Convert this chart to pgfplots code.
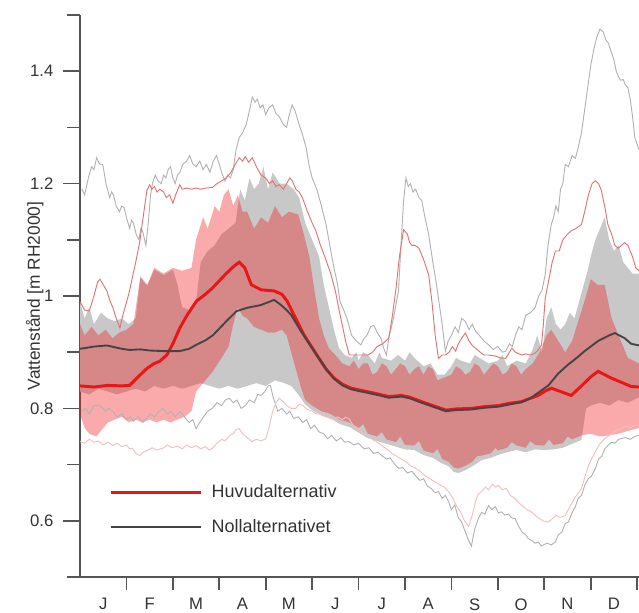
\documentclass[border=0pt]{standalone}
\usepackage{fontspec}
\setmainfont{Liberation Sans}
\usepackage{pgfplots}
\pgfplotsset{compat=1.18}
\usepgfplotslibrary{fillbetween}
\definecolor{bandgray}{RGB}{200,200,200}
\definecolor{bandred}{RGB}{240,20,20}
\definecolor{medred}{RGB}{232,22,22}
\definecolor{meddark}{RGB}{68,68,68}
\definecolor{thingray}{RGB}{178,178,178}
\definecolor{thinred}{RGB}{226,115,115}
\definecolor{thinpink}{RGB}{244,190,190}
\definecolor{axisgray}{RGB}{85,85,85}
\begin{document}
\begin{tikzpicture}
\begin{axis}[
  scale only axis, width=419.25pt, height=421.5pt,
  xmin=0, xmax=12.04, ymin=0.5, ymax=1.5,
  axis x line*=bottom, axis y line*=left,
  axis line style={line width=1.3pt, color=axisgray},
  tick align=outside,
  major tick length=12.5pt, minor tick length=9.5pt,
  every tick/.style={line width=1.2pt, color=axisgray},
  xtick={0.5,1.5,...,11.5},
  xticklabels={J,F,M,A,M,J,J,A,S,O,N,D},
  major x tick style={draw=none},
  minor xtick={1,...,12},
  ytick={0.6,0.8,1,1.2,1.4},
  minor ytick={0.5,0.7,0.9,1.1,1.3,1.5},
  /pgf/number format/assume math mode=true,
  tick label style={font=\fontsize{12.5}{14}\selectfont, color=black!80},
  yticklabel style={xshift=-4pt},
  ylabel={Vattenstånd [m RH2000]},
  every axis y label/.style={at={(axis description cs:-0.081,0.5)}, rotate=90, anchor=center, font=\fontsize{13}{15}\selectfont, color=black!80},
  legend style={draw=none, fill=none, inner sep=0pt, at={(axis cs:0.64,0.62)}, anchor=west,
    font=\fontsize{13.5}{15}\selectfont, row sep=15pt, column sep=0pt,
    nodes={inner sep=0pt, text=black!80}},
  legend cell align=left,
  legend image code/.code={\draw[#1] (0pt,0pt) -- (67pt,0pt); \path (74pt,0pt);},
]
% ---- band boundaries ----
\addplot[name path=ghi, draw=none, forget plot] coordinates {
(0,0.99)(0.1,0.96)(0.2,0.98)(0.3,0.95)(0.45,0.97)(0.6,0.96)(0.75,0.955)(0.9,0.96)(1.05,0.95)(1.2,0.96)(1.3,1.032)(1.45,1.018)(1.6,1.047)(1.8,1.037)(2.0,1.047)(2.1,1.02)(2.2,0.98)(2.35,0.975)(2.5,0.99)(2.6,1.06)(2.75,1.08)(2.9,1.09)(3.05,1.11)(3.2,1.12)(3.35,1.13)(3.45,1.19)(3.55,1.17)(3.65,1.21)(3.75,1.19)(3.85,1.2)(3.95,1.23)(4.05,1.19)(4.15,1.22)(4.3,1.2)(4.45,1.2)(4.6,1.19)(4.72,1.175)(4.85,1.13)(5.0,1.1)(5.15,1.07)(5.25,1.02)(5.36,0.98)(5.47,0.94)(5.58,0.907)(5.7,0.895)(5.85,0.89)(5.95,0.9)(6.0,0.885)(6.1,0.9)(6.2,0.895)(6.35,0.88)(6.45,0.9)(6.5,0.89)(6.7,0.885)(6.85,0.895)(7.0,0.885)(7.1,0.9)(7.2,0.89)(7.4,0.875)(7.55,0.88)(7.7,0.86)(7.85,0.86)(8.0,0.875)(8.1,0.89)(8.2,0.885)(8.4,0.88)(8.5,0.895)(8.6,0.89)(8.8,0.88)(9.0,0.885)(9.1,0.895)(9.2,0.875)(9.4,0.885)(9.6,0.88)(9.75,0.905)(9.85,0.93)(9.95,0.9)(10.05,0.96)(10.15,0.98)(10.25,0.95)(10.35,0.94)(10.45,0.95)(10.55,0.97)(10.65,0.96)(10.75,0.99)(10.85,1.02)(10.95,1.05)(11.0,1.07)(11.1,1.1)(11.2,1.12)(11.3,1.14)(11.4,1.1)(11.5,1.08)(11.6,1.09)(11.7,1.06)(11.8,1.05)(11.9,1.04)(12.04,1.04)};
\addplot[name path=glo, draw=none, forget plot] coordinates {
(0,0.83)(0.2,0.825)(0.4,0.835)(0.6,0.83)(0.8,0.825)(1.0,0.83)(1.2,0.835)(1.4,0.83)(1.6,0.84)(1.8,0.835)(2.0,0.84)(2.2,0.835)(2.4,0.84)(2.6,0.845)(2.8,0.84)(3.0,0.835)(3.2,0.84)(3.4,0.835)(3.6,0.84)(3.8,0.845)(4.0,0.84)(4.2,0.85)(4.4,0.845)(4.55,0.84)(4.7,0.825)(4.85,0.807)(5.0,0.797)(5.2,0.787)(5.4,0.782)(5.6,0.772)(5.8,0.767)(6.0,0.757)(6.2,0.747)(6.4,0.742)(6.6,0.737)(6.8,0.732)(7.0,0.727)(7.2,0.726)(7.4,0.717)(7.6,0.712)(7.8,0.702)(7.94,0.697)(8.05,0.687)(8.15,0.685)(8.3,0.69)(8.45,0.697)(8.65,0.708)(8.85,0.712)(9.0,0.717)(9.2,0.722)(9.4,0.726)(9.6,0.722)(9.8,0.727)(10.0,0.726)(10.2,0.727)(10.4,0.73)(10.6,0.737)(10.8,0.744)(10.9,0.80)(11.0,0.805)(11.2,0.81)(11.4,0.805)(11.6,0.815)(11.8,0.81)(12.04,0.82)};
\addplot[name path=phi, draw=none, forget plot] coordinates {
(0,0.95)(0.1,0.93)(0.25,0.945)(0.4,0.93)(0.55,0.94)(0.7,0.925)(0.85,0.935)(1.0,0.94)(1.15,0.95)(1.3,1.035)(1.45,1.02)(1.6,1.05)(1.8,1.04)(2.0,1.05)(2.2,1.045)(2.4,1.05)(2.5,1.1)(2.65,1.14)(2.75,1.12)(2.9,1.16)(3.0,1.15)(3.1,1.18)(3.2,1.19)(3.3,1.16)(3.4,1.18)(3.5,1.15)(3.6,1.15)(3.75,1.12)(3.9,1.14)(4.05,1.13)(4.2,1.16)(4.35,1.14)(4.5,1.15)(4.7,1.145)(4.82,1.11)(4.94,1.07)(5.05,1.01)(5.15,0.96)(5.25,0.93)(5.36,0.907)(5.5,0.895)(5.65,0.88)(5.8,0.875)(5.9,0.885)(6.0,0.87)(6.1,0.88)(6.2,0.88)(6.3,0.86)(6.4,0.865)(6.5,0.88)(6.6,0.875)(6.7,0.86)(6.8,0.87)(6.9,0.88)(7.0,0.875)(7.1,0.86)(7.2,0.87)(7.3,0.875)(7.4,0.86)(7.5,0.875)(7.6,0.87)(7.7,0.85)(7.85,0.855)(8.0,0.86)(8.1,0.875)(8.2,0.87)(8.3,0.86)(8.4,0.865)(8.5,0.88)(8.6,0.875)(8.7,0.86)(8.8,0.87)(8.9,0.88)(9.0,0.875)(9.1,0.86)(9.2,0.865)(9.3,0.88)(9.4,0.875)(9.5,0.86)(9.6,0.87)(9.75,0.88)(9.9,0.9)(10.05,0.93)(10.15,0.94)(10.3,0.92)(10.45,0.9)(10.6,0.92)(10.75,0.96)(10.9,1.0)(11.0,1.03)(11.15,1.02)(11.3,1.02)(11.45,0.96)(11.6,0.93)(11.8,0.89)(12.04,0.88)};
\addplot[name path=plo, draw=none, forget plot] coordinates {
(0,0.79)(0.1,0.765)(0.2,0.755)(0.35,0.75)(0.5,0.765)(0.6,0.775)(0.75,0.78)(0.9,0.785)(1.05,0.775)(1.2,0.78)(1.35,0.775)(1.5,0.78)(1.65,0.775)(1.8,0.78)(1.95,0.775)(2.1,0.78)(2.25,0.785)(2.4,0.795)(2.5,0.83)(2.65,0.845)(2.86,0.866)(3.05,0.89)(3.2,0.91)(3.3,0.95)(3.4,0.98)(3.5,0.965)(3.6,0.96)(3.75,0.945)(3.9,0.94)(4.05,0.935)(4.2,0.935)(4.35,0.94)(4.45,0.93)(4.55,0.9)(4.65,0.87)(4.75,0.84)(4.85,0.815)(5.0,0.805)(5.2,0.795)(5.4,0.79)(5.6,0.78)(5.8,0.775)(6.0,0.765)(6.1,0.772)(6.2,0.755)(6.4,0.75)(6.5,0.758)(6.6,0.745)(6.8,0.74)(6.9,0.75)(7.0,0.735)(7.2,0.734)(7.3,0.742)(7.4,0.725)(7.6,0.72)(7.7,0.728)(7.8,0.71)(7.94,0.705)(8.05,0.695)(8.15,0.693)(8.3,0.698)(8.45,0.705)(8.55,0.715)(8.65,0.716)(8.85,0.72)(8.95,0.73)(9.0,0.725)(9.2,0.73)(9.3,0.74)(9.4,0.734)(9.6,0.73)(9.7,0.742)(9.8,0.735)(10.0,0.734)(10.1,0.745)(10.2,0.735)(10.4,0.738)(10.5,0.75)(10.6,0.745)(10.8,0.752)(11.0,0.755)(11.2,0.75)(11.4,0.752)(11.6,0.755)(11.8,0.76)(12.04,0.765)};
\addplot[fill=bandgray, draw=none, forget plot] fill between[of=ghi and glo];
\addplot[fill=bandred, fill opacity=0.36, draw=none, forget plot] fill between[of=phi and plo];
% ---- thin extreme lines ----
\addplot[thingray, line width=0.7pt, forget plot] coordinates {
(0.04,1.19)(0.1,1.18)(0.18,1.21)(0.25,1.23)(0.3,1.225)(0.36,1.246)(0.42,1.235)(0.49,1.234)(0.56,1.2)(0.64,1.175)(0.68,1.185)(0.72,1.18)(0.78,1.16)(0.85,1.15)(0.9,1.16)(0.95,1.157)(1.0,1.14)(1.07,1.12)(1.11,1.135)(1.15,1.13)(1.21,1.11)(1.27,1.10)(1.31,1.12)(1.35,1.115)(1.42,1.09)(1.47,1.13)(1.52,1.18)(1.56,1.20)(1.62,1.215)(1.68,1.205)(1.75,1.20)(1.8,1.215)(1.85,1.21)(1.9,1.225)(1.95,1.23)(2.0,1.21)(2.05,1.20)(2.1,1.215)(2.15,1.22)(2.22,1.235)(2.3,1.24)(2.36,1.25)(2.43,1.235)(2.5,1.23)(2.58,1.24)(2.65,1.225)(2.72,1.234)(2.8,1.22)(2.87,1.24)(2.94,1.25)(3.0,1.235)(3.05,1.22)(3.12,1.205)(3.18,1.215)(3.24,1.21)(3.3,1.225)(3.36,1.26)(3.43,1.282)(3.5,1.29)(3.58,1.305)(3.65,1.33)(3.71,1.354)(3.77,1.345)(3.82,1.35)(3.88,1.335)(3.94,1.34)(4.0,1.323)(4.07,1.335)(4.15,1.34)(4.22,1.325)(4.3,1.318)(4.38,1.305)(4.45,1.30)(4.5,1.32)(4.57,1.34)(4.63,1.33)(4.72,1.305)(4.8,1.285)(4.87,1.264)(4.94,1.23)(5.0,1.21)(5.1,1.19)(5.2,1.16)(5.3,1.127)(5.38,1.09)(5.47,1.05)(5.55,1.02)(5.6,0.99)(5.68,0.975)(5.75,0.96)(5.85,0.93)(5.95,0.92)(6.05,0.913)(6.12,0.925)(6.18,0.93)(6.26,0.945)(6.33,0.948)(6.4,0.935)(6.48,0.925)(6.55,0.905)(6.6,0.895)(6.65,0.925)(6.75,0.96)(6.86,1.009)(6.92,1.1)(6.97,1.17)(7.02,1.21)(7.07,1.195)(7.12,1.20)(7.17,1.185)(7.23,1.19)(7.3,1.175)(7.36,1.17)(7.43,1.14)(7.51,1.109)(7.6,1.06)(7.66,1.03)(7.72,0.996)(7.8,0.95)(7.87,0.902)(7.93,0.92)(8.0,0.93)(8.08,0.945)(8.15,0.935)(8.22,0.96)(8.3,0.955)(8.38,0.94)(8.45,0.95)(8.52,0.937)(8.6,0.93)(8.7,0.92)(8.8,0.913)(8.9,0.905)(9.0,0.91)(9.1,0.9)(9.17,0.902)(9.25,0.915)(9.31,0.91)(9.38,0.93)(9.45,0.945)(9.52,0.94)(9.6,0.966)(9.7,0.97)(9.8,0.979)(9.88,1.0)(9.95,1.01)(10.02,1.038)(10.08,1.09)(10.15,1.127)(10.2,1.14)(10.25,1.16)(10.3,1.15)(10.35,1.19)(10.4,1.2)(10.45,1.234)(10.52,1.23)(10.6,1.25)(10.67,1.245)(10.73,1.264)(10.8,1.29)(10.85,1.32)(10.9,1.35)(10.95,1.38)(11.0,1.41)(11.07,1.44)(11.13,1.46)(11.2,1.475)(11.27,1.47)(11.33,1.455)(11.38,1.45)(11.43,1.4375)(11.5,1.42)(11.55,1.4)(11.6,1.39)(11.64,1.384)(11.7,1.385)(11.75,1.375)(11.8,1.371)(11.85,1.35)(11.9,1.32)(11.95,1.282)(12.04,1.26)};
\addplot[thinred, line width=0.7pt, forget plot] coordinates {
(0.0,0.99)(0.1,0.975)(0.2,0.973)(0.3,1.0)(0.38,1.025)(0.43,1.03)(0.5,1.02)(0.58,1.009)(0.65,0.99)(0.71,0.979)(0.78,0.96)(0.86,0.943)(0.92,0.965)(1.01,0.991)(1.07,1.01)(1.14,1.0375)(1.2,1.06)(1.29,1.098)(1.36,1.14)(1.44,1.1875)(1.5,1.198)(1.55,1.19)(1.6,1.195)(1.66,1.185)(1.72,1.19)(1.8,1.185)(1.86,1.175)(1.93,1.18)(2.0,1.165)(2.06,1.18)(2.15,1.198)(2.2,1.19)(2.3,1.192)(2.4,1.19)(2.5,1.192)(2.6,1.19)(2.7,1.192)(2.85,1.193)(2.95,1.2)(3.05,1.205)(3.15,1.21)(3.25,1.22)(3.35,1.235)(3.43,1.246)(3.5,1.24)(3.56,1.248)(3.63,1.238)(3.71,1.246)(3.8,1.23)(3.9,1.215)(4.0,1.21)(4.08,1.2)(4.15,1.205)(4.22,1.195)(4.29,1.198)(4.38,1.19)(4.45,1.2)(4.52,1.21)(4.57,1.205)(4.65,1.19)(4.72,1.185)(4.79,1.175)(4.9,1.15)(5.0,1.13)(5.08,1.116)(5.18,1.09)(5.28,1.068)(5.4,1.04)(5.5,1.009)(5.58,0.975)(5.65,0.948)(5.72,0.92)(5.8,0.895)(6.2,0.895)(6.3,0.9)(6.4,0.91)(6.52,0.915)(6.65,0.925)(6.72,0.96)(6.8,1.009)(6.88,1.07)(6.97,1.118)(7.05,1.11)(7.1,1.095)(7.15,1.09)(7.22,1.09)(7.3,1.085)(7.4,1.065)(7.51,1.0375)(7.58,0.99)(7.65,0.93)(7.72,0.889)(7.8,0.895)(7.87,0.895)(7.95,0.9)(8.02,0.91)(8.09,0.902)(8.15,0.915)(8.22,0.925)(8.3,0.934)(8.38,0.92)(8.45,0.912)(8.52,0.907)(8.62,0.9)(8.7,0.895)(8.8,0.895)(8.95,0.893)(9.05,0.89)(9.17,0.889)(9.25,0.9)(9.3,0.907)(9.38,0.9)(9.51,0.895)(9.6,0.897)(9.7,0.895)(9.8,0.898)(9.88,0.905)(9.94,0.913)(9.98,0.95)(10.02,0.996)(10.1,1.03)(10.17,1.06)(10.24,1.08)(10.32,1.08)(10.4,1.1)(10.5,1.11)(10.58,1.116)(10.68,1.12)(10.8,1.127)(10.87,1.15)(10.95,1.18)(11.03,1.2)(11.1,1.205)(11.17,1.2)(11.23,1.1875)(11.3,1.16)(11.37,1.127)(11.45,1.11)(11.52,1.09)(11.59,1.085)(11.66,1.09)(11.73,1.095)(11.8,1.09)(11.9,1.07)(11.97,1.05)(12.04,1.045)};
\addplot[thingray, line width=0.7pt, forget plot] coordinates {
(0.04,0.795)(0.12,0.8)(0.2,0.79)(0.3,0.805)(0.43,0.805)(0.55,0.795)(0.62,0.8)(0.7,0.795)(0.8,0.785)(0.9,0.79)(1.0,0.78)(1.08,0.785)(1.15,0.777)(1.25,0.785)(1.35,0.775)(1.43,0.782)(1.52,0.79)(1.6,0.785)(1.7,0.795)(1.79,0.80)(1.88,0.79)(1.96,0.795)(2.05,0.785)(2.15,0.795)(2.25,0.785)(2.35,0.775)(2.43,0.78)(2.5,0.764)(2.58,0.775)(2.66,0.785)(2.75,0.795)(2.85,0.80)(2.95,0.81)(3.05,0.805)(3.13,0.815)(3.22,0.818)(3.3,0.81)(3.38,0.815)(3.47,0.8)(3.56,0.805)(3.65,0.815)(3.75,0.81)(3.83,0.825)(3.9,0.823)(3.98,0.83)(4.05,0.84)(4.1,0.841)(4.16,0.82)(4.26,0.795)(4.35,0.8)(4.45,0.79)(4.52,0.795)(4.6,0.782)(4.7,0.785)(4.8,0.775)(4.88,0.78)(4.97,0.764)(5.05,0.77)(5.15,0.758)(5.25,0.755)(5.33,0.746)(5.42,0.752)(5.52,0.742)(5.62,0.748)(5.7,0.74)(5.79,0.741)(5.9,0.735)(6.0,0.738)(6.12,0.728)(6.22,0.73)(6.32,0.72)(6.42,0.722)(6.5,0.716)(6.6,0.71)(6.68,0.712)(6.78,0.7)(6.87,0.693)(6.95,0.695)(7.05,0.685)(7.15,0.688)(7.23,0.68)(7.32,0.672)(7.4,0.675)(7.48,0.662)(7.57,0.657)(7.65,0.65)(7.72,0.652)(7.8,0.64)(7.87,0.645)(7.94,0.634)(8.0,0.62)(8.07,0.628)(8.15,0.605)(8.22,0.598)(8.3,0.58)(8.37,0.565)(8.43,0.555)(8.5,0.585)(8.58,0.604)(8.65,0.615)(8.72,0.612)(8.8,0.627)(8.87,0.62)(8.95,0.625)(9.01,0.614)(9.08,0.616)(9.15,0.61)(9.23,0.612)(9.3,0.605)(9.37,0.604)(9.45,0.59)(9.52,0.58)(9.6,0.575)(9.66,0.568)(9.73,0.565)(9.8,0.56)(9.87,0.562)(9.94,0.555)(10.0,0.558)(10.07,0.56)(10.15,0.557)(10.24,0.5625)(10.3,0.575)(10.38,0.58)(10.45,0.595)(10.52,0.598)(10.6,0.615)(10.67,0.625)(10.73,0.64)(10.8,0.645)(10.88,0.665)(10.95,0.675)(11.02,0.68)(11.1,0.693)(11.17,0.71)(11.24,0.715)(11.3,0.728)(11.37,0.734)(11.45,0.74)(11.52,0.738)(11.6,0.745)(11.65,0.746)(11.75,0.748)(11.85,0.745)(11.95,0.75)(12.04,0.752)};
\addplot[thinpink, line width=0.7pt, forget plot] coordinates {
(0.0,0.741)(0.1,0.738)(0.2,0.745)(0.3,0.74)(0.4,0.742)(0.5,0.735)(0.6,0.74)(0.7,0.734)(0.8,0.738)(0.9,0.732)(1.0,0.735)(1.07,0.728)(1.13,0.729)(1.2,0.72)(1.29,0.716)(1.36,0.722)(1.45,0.725)(1.55,0.73)(1.65,0.726)(1.78,0.729)(1.88,0.735)(1.98,0.73)(2.1,0.733)(2.2,0.728)(2.3,0.735)(2.4,0.73)(2.5,0.734)(2.6,0.728)(2.7,0.732)(2.78,0.726)(2.85,0.729)(2.95,0.738)(3.05,0.745)(3.12,0.742)(3.22,0.752)(3.3,0.755)(3.36,0.762)(3.43,0.764)(3.5,0.755)(3.6,0.748)(3.71,0.741)(3.8,0.745)(3.9,0.742)(4.0,0.746)(4.07,0.765)(4.15,0.795)(4.22,0.81)(4.29,0.818)(4.38,0.812)(4.45,0.805)(4.55,0.8)(4.65,0.80)(4.72,0.808)(4.8,0.805)(4.9,0.798)(5.0,0.795)(5.1,0.79)(5.2,0.79)(5.3,0.785)(5.4,0.782)(5.47,0.78)(5.55,0.785)(5.65,0.78)(5.72,0.784)(5.79,0.782)(5.88,0.77)(5.98,0.765)(6.1,0.755)(6.2,0.752)(6.3,0.745)(6.4,0.74)(6.5,0.734)(6.6,0.728)(6.72,0.72)(6.82,0.715)(6.92,0.71)(7.02,0.705)(7.12,0.698)(7.23,0.693)(7.33,0.688)(7.43,0.68)(7.53,0.675)(7.63,0.67)(7.73,0.665)(7.84,0.66)(7.94,0.652)(8.03,0.64)(8.12,0.625)(8.2,0.615)(8.28,0.6)(8.37,0.59)(8.45,0.61)(8.52,0.635)(8.58,0.648)(8.65,0.652)(8.73,0.66)(8.8,0.655)(8.88,0.665)(8.95,0.66)(9.01,0.663)(9.1,0.655)(9.18,0.658)(9.27,0.645)(9.37,0.64)(9.45,0.632)(9.55,0.625)(9.63,0.62)(9.72,0.616)(9.8,0.61)(9.88,0.605)(9.97,0.6)(10.04,0.598)(10.09,0.598)(10.17,0.603)(10.25,0.61)(10.33,0.606)(10.45,0.609)(10.55,0.625)(10.65,0.64)(10.72,0.648)(10.8,0.657)(10.88,0.68)(10.96,0.7)(11.03,0.712)(11.1,0.723)(11.18,0.735)(11.25,0.742)(11.3,0.746)(11.4,0.752)(11.5,0.758)(11.58,0.762)(11.65,0.764)(11.75,0.768)(11.85,0.765)(11.95,0.77)(12.04,0.77)};
% ---- medians ----
\addplot[medred, line width=2.2pt] coordinates {
(0,0.840)(0.3,0.838)(0.6,0.841)(0.9,0.840)(1.07,0.841)(1.25,0.856)(1.44,0.871)(1.6,0.880)(1.72,0.884)(1.87,0.895)(2.0,0.915)(2.15,0.943)(2.3,0.965)(2.51,0.991)(2.7,1.003)(2.85,1.014)(3.0,1.027)(3.15,1.040)(3.3,1.052)(3.43,1.060)(3.55,1.050)(3.69,1.020)(3.9,1.011)(4.18,1.009)(4.35,1.003)(4.46,0.991)(4.61,0.966)(4.83,0.930)(5.1,0.895)(5.3,0.870)(5.47,0.854)(5.65,0.843)(5.84,0.836)(6.0,0.833)(6.18,0.830)(6.4,0.826)(6.65,0.821)(6.93,0.823)(7.1,0.820)(7.36,0.812)(7.6,0.805)(7.88,0.797)(8.1,0.799)(8.43,0.800)(8.7,0.803)(9.01,0.805)(9.25,0.809)(9.51,0.812)(9.7,0.818)(9.87,0.823)(10.0,0.830)(10.15,0.836)(10.35,0.830)(10.58,0.823)(10.8,0.840)(11.0,0.856)(11.16,0.866)(11.3,0.860)(11.44,0.854)(11.7,0.845)(11.87,0.839)(12.04,0.838)};
\addlegendentry{Huvudalternativ}
\addplot[meddark, line width=1.4pt] coordinates {
(0,0.906)(0.3,0.910)(0.58,0.912)(0.9,0.906)(1.07,0.904)(1.3,0.905)(1.5,0.903)(1.79,0.902)(2.15,0.902)(2.35,0.906)(2.5,0.913)(2.7,0.921)(2.86,0.930)(3.0,0.942)(3.15,0.955)(3.37,0.973)(3.6,0.979)(3.9,0.984)(4.18,0.993)(4.33,0.984)(4.45,0.975)(4.55,0.966)(4.76,0.937)(5.1,0.895)(5.3,0.870)(5.47,0.853)(5.65,0.841)(5.84,0.834)(6.0,0.831)(6.18,0.828)(6.4,0.824)(6.65,0.819)(6.93,0.821)(7.1,0.818)(7.36,0.810)(7.6,0.803)(7.88,0.795)(8.1,0.797)(8.43,0.798)(8.7,0.801)(9.01,0.803)(9.25,0.807)(9.51,0.811)(9.7,0.818)(9.87,0.828)(10.09,0.841)(10.3,0.862)(10.5,0.877)(10.7,0.890)(10.87,0.902)(11.16,0.920)(11.4,0.930)(11.52,0.934)(11.73,0.925)(11.87,0.915)(12.04,0.912)};
\addlegendentry{Nollalternativet}
\end{axis}
\pgfresetboundingbox
\path[use as bounding box] ([xshift=-60pt,yshift=-27pt]current axis.south west) rectangle ([yshift=11.25pt]current axis.north east);
\end{tikzpicture}
\end{document}
